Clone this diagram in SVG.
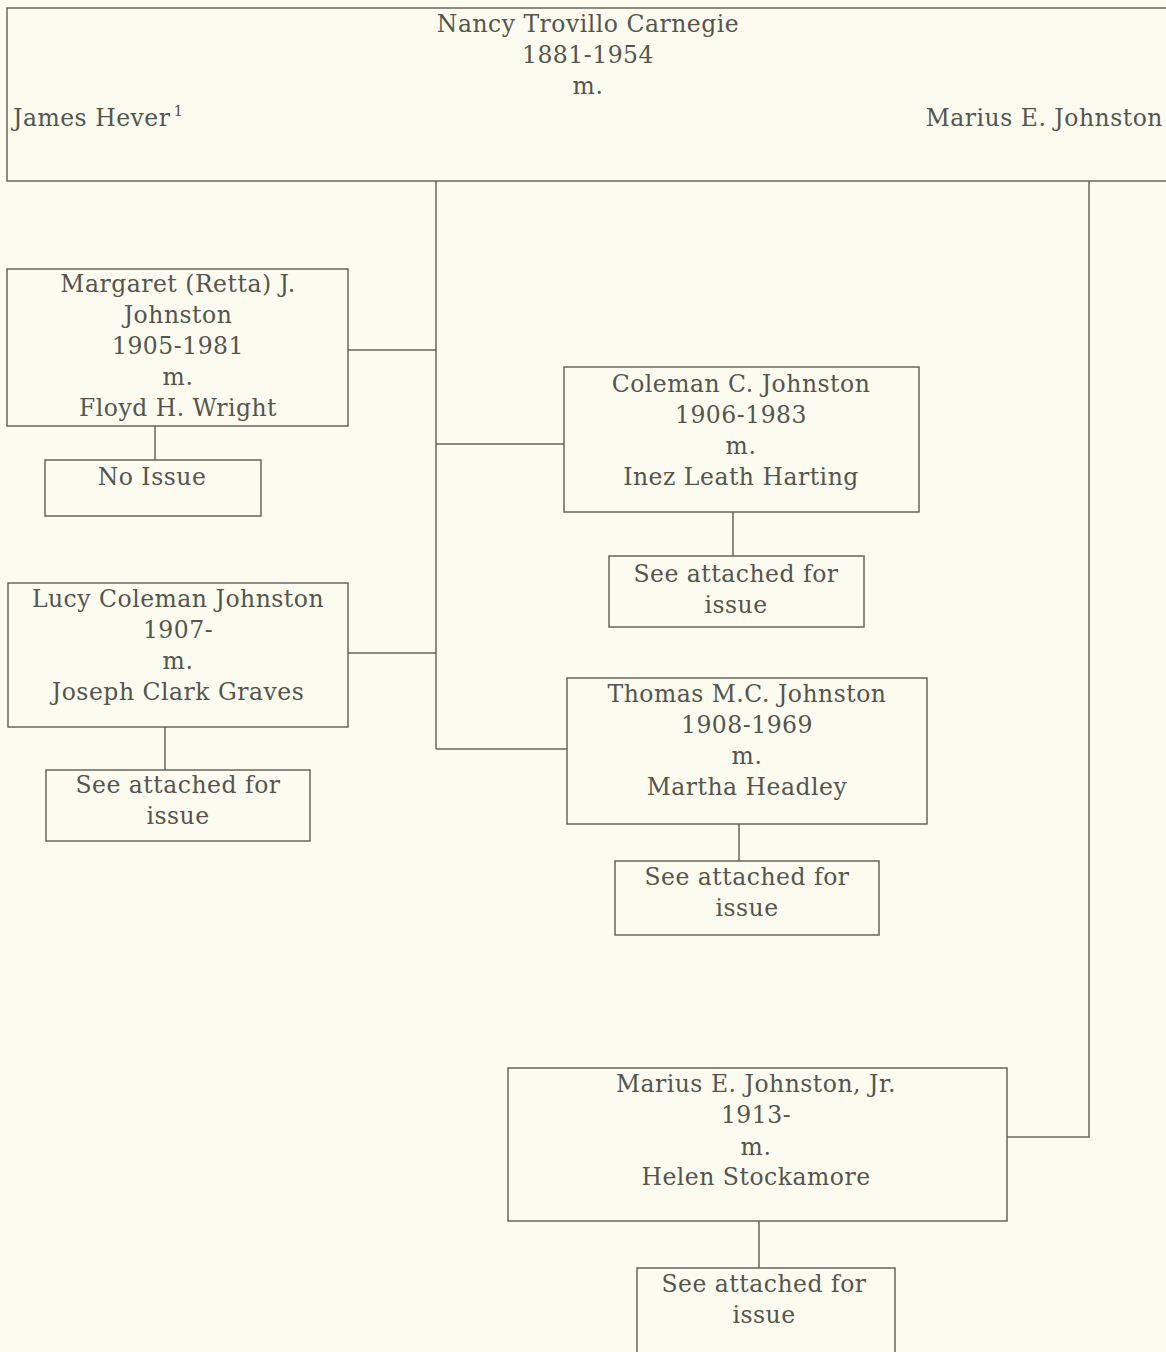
<svg xmlns="http://www.w3.org/2000/svg" width="1166" height="1352" viewBox="0 0 1166 1352">
<style>
.bg{fill:#fbfcef}
.box{fill:none;stroke:#67665e;stroke-width:1.5}
.conn{fill:none;stroke:#67665e;stroke-width:1.5}
text{font-family:"DejaVu Serif","Liberation Serif",serif;font-size:23.5px;fill:#56554d;letter-spacing:0.5px}
.c{text-anchor:middle}
.sup{font-size:15px;letter-spacing:0}
</style>
<rect class="bg" x="0" y="0" width="1166" height="1352"/>
<g id="connectors">
<path class="conn" d="M436,181 V749"/>
<path class="conn" d="M348,350 H436"/>
<path class="conn" d="M436,444 H564"/>
<path class="conn" d="M348,653 H436"/>
<path class="conn" d="M436,749 H567"/>
<path class="conn" d="M1089,181 V1137 H1007"/>
<path class="conn" d="M155,426 V460"/>
<path class="conn" d="M733,512 V556"/>
<path class="conn" d="M165,727 V770"/>
<path class="conn" d="M739,824 V861"/>
<path class="conn" d="M759,1221 V1268"/>
</g>
<g id="parents">
<rect class="box" x="7" y="8" width="1170" height="173"/>
<text class="c" x="588" y="32">Nancy Trovillo Carnegie</text>
<text class="c" x="588" y="63">1881-1954</text>
<text class="c" x="588" y="94">m.</text>
<text x="13" y="126">James Hever<tspan class="sup" dx="3" dy="-10">1</tspan></text>
<text x="1163" y="126" text-anchor="end">Marius E. Johnston</text>
</g>
<g id="margaret">
<rect class="box" x="7" y="269" width="341" height="157"/>
<text class="c" x="178" y="292">Margaret (Retta) J.</text>
<text class="c" x="178" y="323">Johnston</text>
<text class="c" x="178" y="354">1905-1981</text>
<text class="c" x="178" y="385">m.</text>
<text class="c" x="178" y="416">Floyd H. Wright</text>
</g>
<g id="margaret-issue">
<rect class="box" x="45" y="460" width="216" height="56"/>
<text class="c" x="152" y="485">No Issue</text>
</g>
<g id="coleman">
<rect class="box" x="564" y="367" width="355" height="145"/>
<text class="c" x="741" y="392">Coleman C. Johnston</text>
<text class="c" x="741" y="423">1906-1983</text>
<text class="c" x="741" y="454">m.</text>
<text class="c" x="741" y="485">Inez Leath Harting</text>
</g>
<g id="coleman-issue">
<rect class="box" x="609" y="556" width="255" height="71"/>
<text class="c" x="736" y="582">See attached for</text>
<text class="c" x="736" y="613">issue</text>
</g>
<g id="lucy">
<rect class="box" x="8" y="583" width="340" height="144"/>
<text class="c" x="178" y="607">Lucy Coleman Johnston</text>
<text class="c" x="178" y="638">1907-</text>
<text class="c" x="178" y="669">m.</text>
<text class="c" x="178" y="700">Joseph Clark Graves</text>
</g>
<g id="lucy-issue">
<rect class="box" x="46" y="770" width="264" height="71"/>
<text class="c" x="178" y="793">See attached for</text>
<text class="c" x="178" y="824">issue</text>
</g>
<g id="thomas">
<rect class="box" x="567" y="678" width="360" height="146"/>
<text class="c" x="747" y="702">Thomas M.C. Johnston</text>
<text class="c" x="747" y="733">1908-1969</text>
<text class="c" x="747" y="764">m.</text>
<text class="c" x="747" y="795">Martha Headley</text>
</g>
<g id="thomas-issue">
<rect class="box" x="615" y="861" width="264" height="74"/>
<text class="c" x="747" y="885">See attached for</text>
<text class="c" x="747" y="916">issue</text>
</g>
<g id="marius-jr">
<rect class="box" x="508" y="1068" width="499" height="153"/>
<text class="c" x="756" y="1092">Marius E. Johnston, Jr.</text>
<text class="c" x="756" y="1123">1913-</text>
<text class="c" x="756" y="1155">m.</text>
<text class="c" x="756" y="1185">Helen Stockamore</text>
</g>
<g id="marius-jr-issue">
<rect class="box" x="637" y="1268" width="258" height="100"/>
<text class="c" x="764" y="1292">See attached for</text>
<text class="c" x="764" y="1323">issue</text>
</g>
</svg>
